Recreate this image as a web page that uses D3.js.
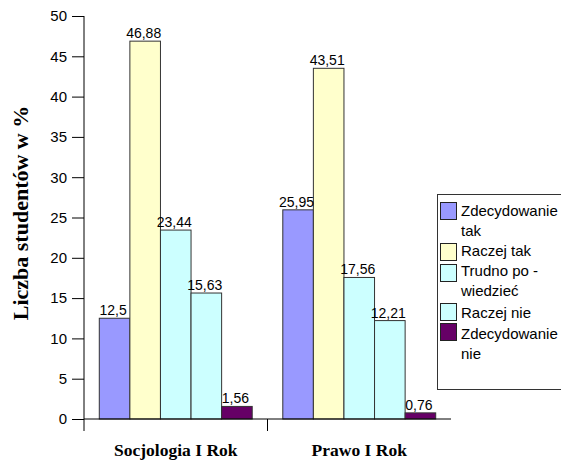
<!DOCTYPE html>
<html><head><meta charset="utf-8">
<script src="https://cdn.jsdelivr.net/npm/d3@7"></script>
<style>html,body{margin:0;padding:0;background:#fff;}</style>
</head><body>
<svg id="chart" width="561" height="462"></svg>
<script>
const categories = ["Socjologia I Rok", "Prawo I Rok"];
const seriesNames = ["Zdecydowanie tak", "Raczej tak", "Trudno po - wiedzieć", "Raczej nie", "Zdecydowanie nie"];
const legendLines = [["Zdecydowanie", "tak"], ["Raczej tak"], ["Trudno po -", "wiedzieć"], ["Raczej nie"], ["Zdecydowanie", "nie"]];
const seriesColors = ["#9999FF", "#FFFFCC", "#CCFFFF", "#CCFFFF", "#660066"];
const socjologiaValues = [12.5, 46.88, 23.44, 15.63, 1.56];
const prawoValues = [25.95, 43.51, 17.56, 12.21, 0.76];
const yTicks = [0, 5, 10, 15, 20, 25, 30, 35, 40, 45, 50];
const yTitle = "Liczba studentów w %";

const values = [socjologiaValues, prawoValues];
const fmt = v => String(v).replace(".", ",");

const svg = d3.select("#chart");
const L = 84, R = 451, T = 16, B = 419;

const x0 = d3.scaleBand().domain(categories).range([L, R]).padding(0);
const x1 = d3.scaleBand().domain(d3.range(seriesNames.length)).range([0, x0.bandwidth()]).paddingInner(0).paddingOuter(0.5);
const y = d3.scaleLinear().domain([0, 50]).range([B, T]);

// Y axis
const yAxis = svg.append("g").attr("transform", `translate(${L},0)`)
  .call(d3.axisLeft(y).tickValues(yTicks).tickSize(12).tickPadding(5).tickFormat(d => d));
yAxis.select(".domain").attr("d", `M0,${T}V${B}`).attr("stroke", "#000");
yAxis.selectAll(".tick line").attr("stroke", "#000");
yAxis.selectAll(".tick text").attr("font-family", "Liberation Sans, Arial, sans-serif").attr("font-size", 15).attr("fill", "#000");

// Bars
categories.forEach((c, ci) => {
  const g = svg.append("g").attr("transform", `translate(${x0(c)},0)`);
  g.selectAll("rect").data(values[ci]).join("rect")
    .attr("x", (d, i) => x1(i))
    .attr("y", d => y(d))
    .attr("width", x1.bandwidth())
    .attr("height", d => B - y(d))
    .attr("fill", (d, i) => seriesColors[i])
    .attr("stroke", "#333").attr("stroke-width", 1);
  g.selectAll("text").data(values[ci]).join("text")
    .attr("x", (d, i) => x1(i) + x1.bandwidth() / 2 - 1.5)
    .attr("y", d => y(d) - 3)
    .attr("text-anchor", "middle")
    .attr("font-family", "Liberation Sans, Arial, sans-serif")
    .attr("font-size", 14)
    .attr("fill", "#000")
    .text(d => fmt(d));
});

// X axis
const xAxis = svg.append("g").attr("transform", `translate(0,${B})`)
  .call(d3.axisBottom(x0).tickSize(0).tickPadding(25));
xAxis.select(".domain").attr("d", `M${L},0H${R}`).attr("stroke", "#000");
xAxis.selectAll(".tick text").attr("font-family", "Liberation Serif, Times New Roman, serif")
  .attr("font-weight", "bold").attr("font-size", 17.5).attr("fill", "#000").attr("dy", "0.71em");
[L, x0(categories[1])].forEach(xx => {
  xAxis.append("line").attr("x1", xx).attr("x2", xx).attr("y1", 0).attr("y2", 12).attr("stroke", "#000");
});

// Y title
svg.append("text")
  .attr("transform", `translate(28,213) rotate(-90)`)
  .attr("text-anchor", "middle")
  .attr("font-family", "Liberation Serif, Times New Roman, serif")
  .attr("font-weight", "bold").attr("font-size", 22).attr("fill", "#000")
  .text(yTitle);

// Legend
const lg = svg.append("g");
lg.append("rect").attr("x", 437.5).attr("y", 194.5).attr("width", 140).attr("height", 195)
  .attr("fill", "#fff").attr("stroke", "#333");
const swatchY = [202, 243, 264, 303, 323];
const textY = [211, 251, 271, 313, 334];
legendLines.forEach((lines, i) => {
  lg.append("rect").attr("x", 440.5).attr("y", swatchY[i] + 0.5).attr("width", 16).attr("height", 17)
    .attr("fill", seriesColors[i]).attr("stroke", "#222");
  lines.forEach((t, j) => {
    lg.append("text").attr("x", 461).attr("y", textY[i] + j * 20).attr("dy", "0.35em")
      .attr("font-family", "Liberation Sans, Arial, sans-serif").attr("font-size", 15).attr("fill", "#000")
      .text(t);
  });
});
</script>
</body></html>
